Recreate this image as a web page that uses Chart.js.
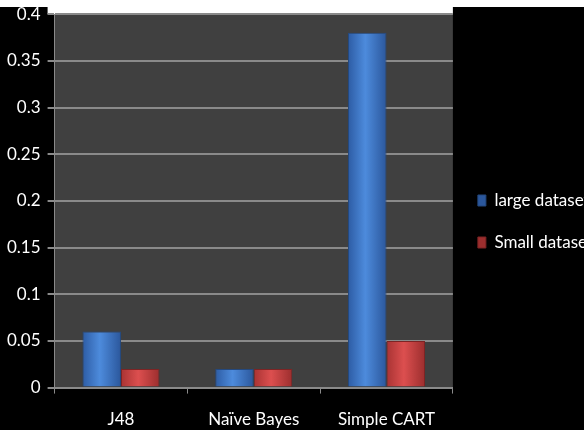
<!DOCTYPE html>
<html>
<head>
<meta charset="utf-8">
<script src="https://cdn.jsdelivr.net/npm/chart.js@4/dist/chart.umd.min.js"></script>
<style>
  html, body { margin: 0; padding: 0; background: #fff; overflow: hidden; width: 584px; height: 430px; }
  #wrap { position: absolute; left: 0; top: -3px; width: 603px; height: 449px; }
  #strip { position: absolute; left: 0; top: 0; width: 584px; height: 7px; background: #fff; }
</style>
</head>
<body>
<div id="wrap"><canvas id="chart" width="603" height="449"></canvas></div>
<div id="strip"></div>
<script>
// Datos del gráfico
const categories = ["J48", "Naïve Bayes", "Simple CART"];
const largeValues = [0.06, 0.02, 0.38];
const smallValues = [0.02, 0.02, 0.05];
const seriesNames = ["large dataset", "Small dataset"];

const FONT = "Lato, 'Open Sans', sans-serif";

// degradado horizontal para cada barra
function barGradient(stops, solid) {
  return (ctx) => {
    const el = ctx.chart.getDatasetMeta(ctx.datasetIndex).data[ctx.dataIndex];
    if (!el || el.x === undefined || isNaN(el.x)) return solid;
    const g = ctx.chart.ctx.createLinearGradient(el.x - el.width / 2, 0, el.x + el.width / 2, 0);
    g.addColorStop(0, stops[0]);
    g.addColorStop(0.45, stops[1]);
    g.addColorStop(1, stops[2]);
    return g;
  };
}

// fondo negro, franja blanca sobre el área y área gris
const plotBg = {
  id: "plotBg",
  beforeDraw(chart) {
    const { ctx, chartArea, width, height } = chart;
    ctx.save();
    ctx.fillStyle = "#000";
    ctx.fillRect(0, 0, width, height);
    ctx.fillStyle = "#fff";
    ctx.fillRect(chartArea.left - 7, 0, chartArea.right - chartArea.left + 7, chartArea.top);
    ctx.fillStyle = "#404040";
    ctx.fillRect(chartArea.left, chartArea.top, chartArea.right - chartArea.left, chartArea.bottom - chartArea.top);
    ctx.restore();
  }
};

const chart = new Chart(document.getElementById("chart"), {
  type: "bar",
  data: {
    labels: categories,
    datasets: [
      {
        label: seriesNames[0],
        data: largeValues,
        backgroundColor: barGradient(["#2d5ca4", "#4d8bdc", "#2b579c"], "#3f78c8"),
        borderColor: "#24497f",
        borderWidth: 1,
        barPercentage: 1.0,
        categoryPercentage: 0.58
      },
      {
        label: seriesNames[1],
        data: smallValues,
        backgroundColor: barGradient(["#a83333", "#dc4f4f", "#9c2e2e"], "#c84242"),
        borderColor: "#7d2424",
        borderWidth: 1,
        barPercentage: 1.0,
        categoryPercentage: 0.58
      }
    ]
  },
  options: {
    responsive: false,
    animation: false,
    layout: { padding: 0 },
    plugins: {
      legend: {
        position: "right",
        labels: {
          color: "#ffffff",
          font: { family: FONT, size: 17 },
          boxWidth: 8,
          boxHeight: 11,
          padding: 25
        }
      },
      tooltip: { enabled: false }
    },
    scales: {
      x: {
        grid: {
          drawOnChartArea: false,
          drawTicks: true,
          tickLength: 6,
          color: "#8a8a8a"
        },
        border: { color: "#8a8a8a", width: 2 },
        ticks: {
          color: "#ffffff",
          font: { family: FONT, size: 17 },
          padding: 16
        }
      },
      y: {
        min: 0,
        max: 0.4,
        ticks: {
          stepSize: 0.05,
          color: "#ffffff",
          font: { family: FONT, size: 17 },
          padding: 7,
          callback: (v) => String(parseFloat(v.toFixed(2)))
        },
        grid: {
          color: "#8a8a8a",
          lineWidth: 2,
          tickLength: 7
        },
        border: { color: "#8a8a8a", width: 1 }
      }
    }
  },
  plugins: [plotBg]
});
chart.update();
</script>
</body>
</html>
